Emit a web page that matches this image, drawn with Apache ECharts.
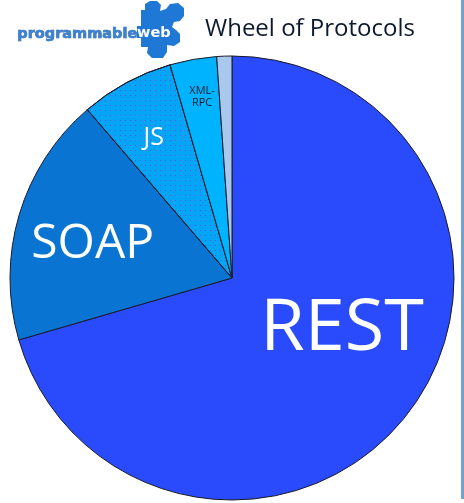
<!DOCTYPE html>
<html>
<head>
<meta charset="utf-8">
<script src="https://cdn.jsdelivr.net/npm/echarts@6/dist/echarts.min.js"></script>
<style>
  html, body { margin: 0; padding: 0; background: #fff; }
  #chart { width: 464px; height: 503px; }
</style>
</head>
<body>
<div id="chart"></div>
<script>
const protocols = ['REST', 'SOAP', 'JS', 'XML-\nRPC', 'Other']
const shares = [70.5, 18.2, 6.8, 3.4, 1.1]
const sliceColors = ['#2a4bfb', '#0a74d3', '#02a6f4', '#00b3ff', '#a8c8ee']

// label nudges from the default inside position
const labelShift = [[19, -17], [-30, -1], [-24, -40], [-10, -69], [0, 0]]
const labelSize = [72, 48, 25, 11, 1]

const chart = echarts.init(document.getElementById('chart'))

const puzzleBlue = '#1f78d6'

chart.setOption({
  animation: false,
  graphic: [
    // puzzle piece of the logo
    {
      type: 'polygon',
      shape: {
        points: [[141, 10], [145, 10], [145, 4], [150, 1], [157, 1], [161, 5], [160, 11],
          [166, 9], [170, 4], [178, 3], [184, 8], [184, 16], [180, 21], [174, 22],
          [172, 27], [176, 30], [180, 34], [180, 42], [174, 46], [167, 45], [167, 52],
          [163, 58], [152, 58], [147, 53], [148, 47], [141, 47], [141, 38], [137, 38],
          [137, 26], [141, 26]]
      },
      style: { fill: puzzleBlue }
    },
    {
      type: 'text',
      left: 17, top: 26,
      style: {
        text: 'programmable',
        font: 'bold 14.5px "DejaVu Sans"',
        fill: '#3a82d4',
        stroke: '#1d4f8a',
        lineWidth: 0.6
      }
    },
    {
      type: 'text',
      left: 137, top: 26,
      style: {
        text: 'web',
        font: 'bold 14.5px "DejaVu Sans"',
        fill: '#ffffff'
      }
    },
    {
      type: 'text',
      left: 205, top: 17,
      style: {
        text: 'Wheel of Protocols',
        font: '24px "Open Sans"',
        fill: '#0d1a2e'
      }
    },
    {
      type: 'rect',
      shape: { x: 461, y: 0, width: 3, height: 499 },
      style: { fill: '#72a2d2' }
    }
  ],
  series: [
    {
      type: 'pie',
      center: [232, 278],
      radius: [0, 222],
      startAngle: 90,
      clockwise: true,
      avoidLabelOverlap: false,
      itemStyle: { borderColor: '#1a1a2a', borderWidth: 1 },
      emphasis: { disabled: true },
      label: {
        show: true,
        position: 'inside',
        color: '#fff',
        fontFamily: 'Open Sans'
      },
      labelLine: { show: false },
      labelLayout: function (params) {
        const s = labelShift[params.dataIndex]
        return { dx: s[0], dy: s[1] }
      },
      data: protocols.map(function (name, i) {
        const item = {
          name: name,
          value: shares[i],
          itemStyle: { color: sliceColors[i] },
          label: {
            show: i < 4,
            fontSize: labelSize[i],
            lineHeight: labelSize[i] + 1,
            color: i === 3 ? '#1a1a2a' : '#fff',
            formatter: '{b}'
          }
        }
        if (i === 2) {
          item.itemStyle.decal = {
            symbol: 'rect',
            symbolSize: 1,
            color: '#6a4fe6',
            dashArrayX: [1, 4],
            dashArrayY: [1, 4],
            rotation: 0
          }
        }
        return item
      })
    }
  ]
})
</script>
</body>
</html>
